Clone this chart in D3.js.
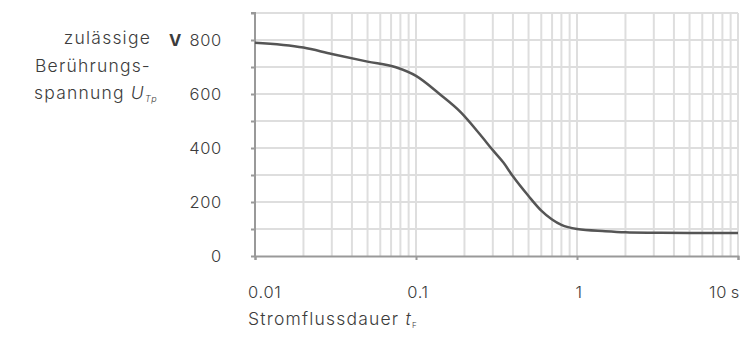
<!DOCTYPE html>
<html><head><meta charset="utf-8">
<script src="https://cdn.jsdelivr.net/npm/d3@7"></script>
<style>body{margin:0;background:#fff}svg{display:block}text{font-family:Inter,"Open Sans",sans-serif;fill:#3c3c3c;font-weight:300;letter-spacing:0.7px}</style>
</head><body><svg id="c" width="743" height="340"></svg>
<script>
const durations = [0.01, 0.02, 0.03, 0.05, 0.075, 0.1, 0.14, 0.19, 0.25, 0.3, 0.35, 0.4, 0.5, 0.6, 0.7, 0.8, 1, 1.5, 2, 3, 5, 10];
const voltages  = [790, 772, 748, 720, 699, 667, 600, 532, 450, 392, 345, 295, 222, 168, 135, 115, 100, 92, 88, 86, 85, 85];
const yTickValues = [0, 200, 400, 600, 800];
const xTickValues = [0.01, 0.1, 1, 10];
const xTickLabels = ["0.01", "0.1", "1", "10\u202Fs"];
const yTitleLines = ["zulässige", "Berührungs-", "spannung"];

const FS = 16.5, TFS = 17.5;
const svg = d3.select("#c");
const x = d3.scaleLog().domain([0.01, 10]).range([255, 738]);
const y = d3.scaleLinear().domain([0, 900]).range([256, 13]);

// grid
const minor = [];
[0.01, 0.1, 1].forEach(d => { for (let k = 1; k <= 10; k++) minor.push(d * k); });
const g = svg.append("g");
g.selectAll("line.v").data(minor.filter(d => d > 0.0100001)).join("line")
  .attr("x1", d => x(d)).attr("x2", d => x(d)).attr("y1", y(900)).attr("y2", y(0))
  .attr("stroke", "#dedede").attr("stroke-width", 2);
g.selectAll("line.h").data(d3.range(100, 1000, 100)).join("line")
  .attr("x1", x(0.01)).attr("x2", x(10)).attr("y1", d => y(d)).attr("y2", d => y(d))
  .attr("stroke", "#dedede").attr("stroke-width", 2);

// axes
const ya = svg.append("g").attr("transform", `translate(${x(0.01)},0)`)
  .call(d3.axisLeft(y).tickValues(d3.range(0, 1000, 100)).tickSize(4).tickFormat(""));
const xa = svg.append("g").attr("transform", `translate(0,${y(0)})`)
  .call(d3.axisBottom(x).tickValues(xTickValues).tickSize(4).tickFormat(""));
[ya, xa].forEach(a => {
  a.select(".domain").attr("stroke", "#999").attr("stroke-width", 2);
  a.selectAll(".tick line").attr("stroke", "#999").attr("stroke-width", 2);
});
ya.select(".domain").attr("d", `M-4,${y(900)}H0V${y(0)}`);

// tick labels
svg.append("g").selectAll("text").data(yTickValues).join("text")
  .attr("x", 222).attr("y", d => y(d) + 6).attr("text-anchor", "end")
  .attr("font-size", FS).text(d => d);
svg.append("text").attr("x", 182).attr("y", y(800) + 6).attr("text-anchor", "end")
  .attr("font-size", FS).style("font-weight", 700).text("V");
svg.append("g").selectAll("text").data(xTickValues).join("text")
  .attr("x", (d, i) => i === 0 ? 248 : i === 3 ? 740 : x(d) + 2)
  .attr("y", 298)
  .attr("text-anchor", (d, i) => i === 0 ? "start" : i === 3 ? "end" : "middle")
  .attr("font-size", FS).text((d, i) => xTickLabels[i]);

// titles
const yt = svg.append("g");
yTitleLines.forEach((s, i) => {
  const t = yt.append("text").attr("x", i === 2 ? 158 : 151).attr("y", 44 + i * 27.5)
    .attr("text-anchor", "end").attr("font-size", TFS).style("letter-spacing", "1.2px");
  t.append("tspan").text(s);
  if (i === 2) {
    t.append("tspan").text(" U").attr("font-style", "italic");
    t.append("tspan").text("Tp").attr("font-style", "italic").attr("font-size", 9).attr("dy", 3);
  }
});
const xt = svg.append("text").attr("x", 248).attr("y", 325).attr("font-size", TFS).style("letter-spacing", "1.2px");
xt.append("tspan").text("Stromflussdauer ");
xt.append("tspan").text("t").attr("font-style", "italic");
xt.append("tspan").text("F").attr("font-size", 8).attr("dy", 3);

// curve
const pts = durations.map((d, i) => [d, voltages[i]]);
svg.append("path").datum(pts)
  .attr("d", d3.line().x(d => x(d[0])).y(d => y(d[1])).curve(d3.curveMonotoneX))
  .attr("fill", "none").attr("stroke", "#555").attr("stroke-width", 2.5);
</script></body></html>
